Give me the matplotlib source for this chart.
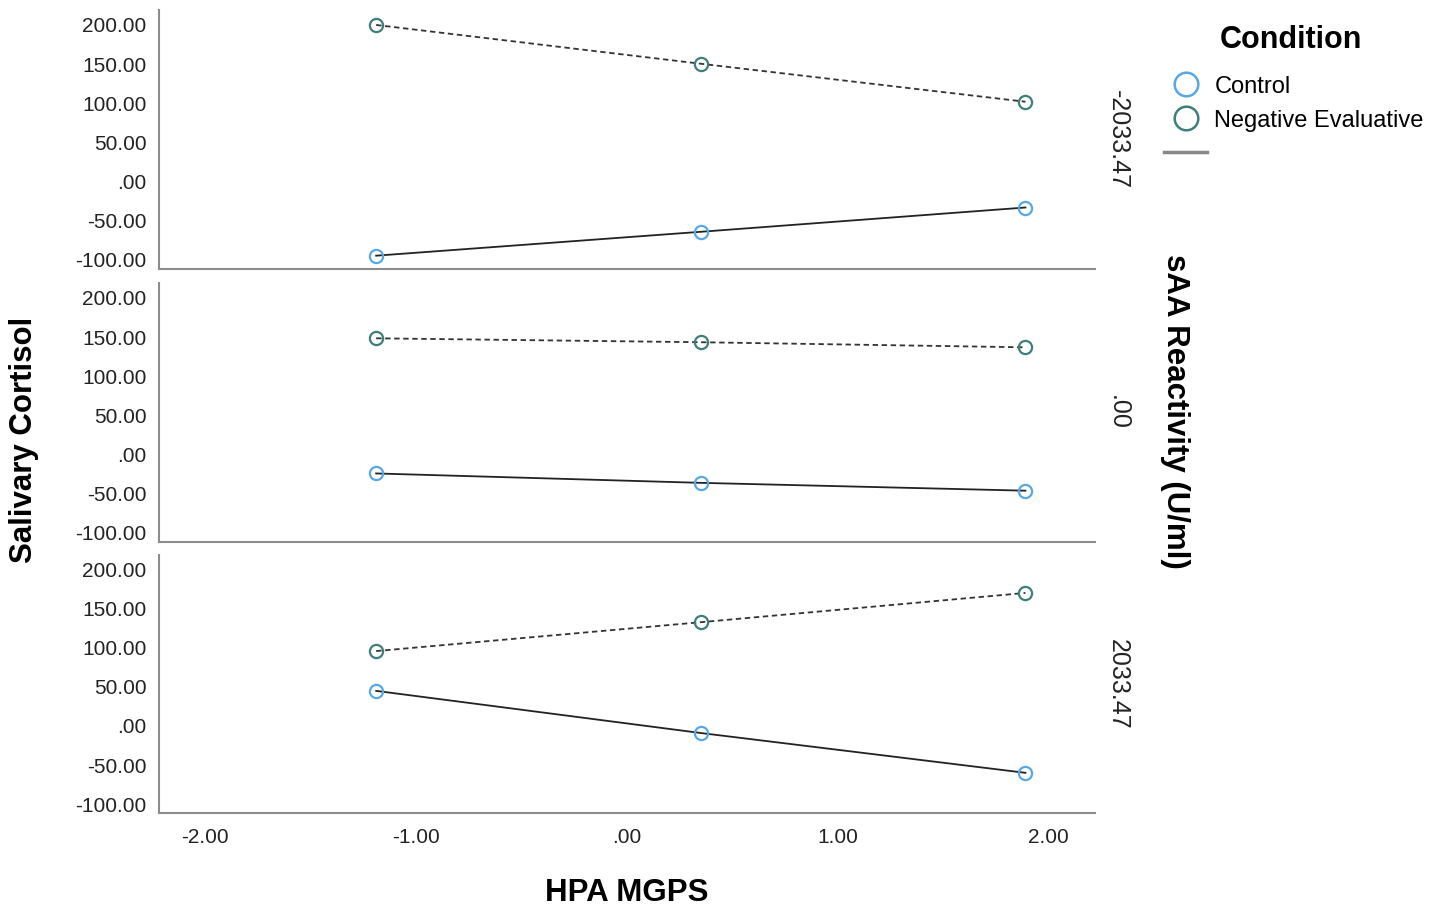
import matplotlib.pyplot as plt
from matplotlib.lines import Line2D

plt.rcParams['font.family'] = ['Liberation Sans', 'DejaVu Sans']

# HPA MGPS at -1 SD, mean, +1 SD
hpa = [-1.19, 0.35, 1.89]
panel_labels = ['-2033.47', '.00', '2033.47']
control = [[-94.5, -64.0, -33.0],
           [-24.0, -36.0, -46.0],
           [45.0, -9.0, -60.0]]
negative = [[200.0, 150.5, 102.0],
            [148.5, 143.5, 137.0],
            [96.0, 133.0, 170.5]]
yticks = [-100, -50, 0, 50, 100, 150, 200]
xticks = [-2, -1, 0, 1, 2]

c_control = '#58a8e6'
c_negative = '#3e7f7a'
c_spine = '#8c8c8c'

W, H = 1439, 910
fig = plt.figure(figsize=(W / 100, H / 100), dpi=100)

def fmt(v):
    s = '%.2f' % v
    if s.startswith('0.'):
        s = s[1:]
    return s

# panel boxes in pixels: (top, bottom)
boxes = [(10, 269), (283, 542), (555, 813)]
left, right = 159, 1095

for i, (top, bot) in enumerate(boxes):
    ax = fig.add_axes([left / W, 1 - bot / H, (right - left) / W, (bot - top) / H])
    ax.plot(hpa, negative[i], color='#333333', ls=(0, (3, 2)), lw=1.3, zorder=2)
    ax.plot(hpa, control[i], color='#222222', ls='-', lw=1.3, zorder=2)
    ax.plot(hpa, negative[i], ls='none', marker='o', ms=9.5, mfc='none',
            mec=c_negative, mew=1.6, zorder=3)
    ax.plot(hpa, control[i], ls='none', marker='o', ms=9.5, mfc='none',
            mec=c_control, mew=1.6, zorder=3)
    ax.set_xlim(-2.22, 2.22)
    ax.set_ylim(-111.5, 219.1)
    ax.set_yticks(yticks)
    ax.set_yticklabels([fmt(v) for v in yticks], fontsize=15, color='#222222')
    ax.set_xticks(xticks)
    if i == 2:
        ax.set_xticklabels([fmt(v) for v in xticks], fontsize=15, color='#222222')
    else:
        ax.set_xticklabels([])
    ax.tick_params(length=0, pad=9)
    ax.tick_params(axis='x', pad=11)
    for s in ['top', 'right']:
        ax.spines[s].set_visible(False)
    for s in ['left', 'bottom']:
        ax.spines[s].set_color(c_spine)
        ax.spines[s].set_linewidth(1.5)
    fig.text(1118 / W, 1 - (top + bot) / 2 / H, panel_labels[i], rotation=270,
             ha='center', va='center', fontsize=18, color='#222222')

fig.text(24 / W, 1 - 440 / H, 'Salivary Cortisol', rotation=90, ha='center',
         va='center', fontsize=22.5, fontweight='bold')
fig.text(627 / W, 1 - 893 / H, 'HPA MGPS', ha='center', va='center',
         fontsize=22.5, fontweight='bold')
fig.text(1175 / W, 1 - 411 / H, 'sAA Reactivity (U/ml)', rotation=270,
         ha='center', va='center', fontsize=22.5, fontweight='bold')

# legend
fig.text(1291 / W, 1 - 40 / H, 'Condition', ha='center', va='center',
         fontsize=22, fontweight='bold')
handles = [Line2D([], [], ls='none', marker='o', ms=17, mfc='none', mec=c_control, mew=1.8),
           Line2D([], [], ls='none', marker='o', ms=17, mfc='none', mec=c_negative, mew=1.8),
           Line2D([], [], color='#888888', lw=2.5)]
fig.legend(handles, ['Control', 'Negative Evaluative', ''],
           loc='upper left', bbox_to_anchor=(1159 / W, 1 - 71 / H),
           frameon=False, fontsize=17, handlelength=1.85, handletextpad=0.3,
           labelspacing=0.5, borderaxespad=0, borderpad=0.2)

fig.savefig('out.png', dpi=100)
